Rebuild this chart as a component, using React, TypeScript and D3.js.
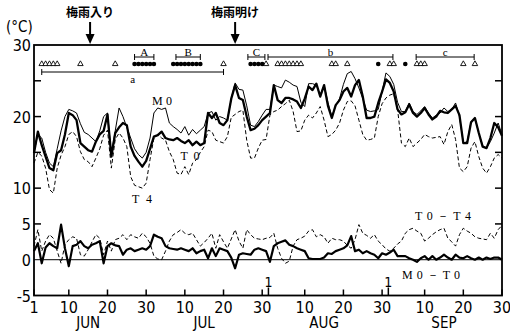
import React, { useEffect, useRef } from "react";
import * as d3 from "d3";

// daily values, 1 Jun (day 0) .. 30 Sep (day 121)
const m0 = [
  15.0, 17.5, 17.0, 15.0, 13.5, 13.0, 15.5, 18.0, 20.0, 21.0,
  20.8, 20.5, 19.0, 17.8, 17.5, 17.0, 16.5, 18.0, 20.0, 20.5,
  14.8, 18.0, 21.2, 20.0, 18.5, 17.0, 15.5, 14.7, 14.2, 15.0,
  17.0, 20.5, 21.2, 21.0, 21.2, 19.1, 18.6, 18.2, 17.7, 18.6,
  17.4, 18.2, 17.6, 18.1, 18.6, 20.5, 20.7, 19.5, 20.0, 19.8,
  19.5, 22.5, 24.7, 23.8, 23.7, 21.5, 18.8, 18.6, 19.3, 20.2,
  21.0, 21.0, 24.4, 24.2, 24.0, 25.1, 24.8, 24.4, 24.2, 22.0,
  21.4, 24.6, 24.6, 24.4, 23.0, 24.4, 22.0, 20.0, 21.5, 22.5,
  24.5, 26.0, 26.3, 25.3, 24.0, 22.5, 20.9, 20.7, 20.8, 21.0,
  23.5, 26.1, 25.6, 24.5, 22.0, 20.7, 20.7, 21.9, 20.7, 20.3,
  20.8, 21.4, 20.5, 19.8, 20.2, 20.5, 21.2, 20.7, 21.0, 21.9,
  20.0, 16.3, 16.5, 19.3, 19.8, 17.7, 15.9, 15.6, 16.5, 17.7,
  19.1, 17.5,
];

const t0 = [
  14.9, 17.9, 16.0, 14.4, 12.8, 12.5, 14.9, 15.3, 17.5, 20.5,
  20.2, 19.5, 16.3, 15.8, 15.3, 15.1, 16.5, 17.5, 18.0, 20.3,
  14.4, 17.7, 18.5, 19.1, 18.8, 15.8, 14.5, 13.7, 13.0, 13.8,
  15.5, 17.2, 17.4, 17.9, 17.0, 16.8, 16.7, 17.0, 16.6, 16.3,
  16.7, 16.0, 16.5, 16.0, 16.3, 20.5, 19.8, 20.5, 19.1, 18.8,
  19.5, 22.5, 24.4, 22.6, 22.3, 20.0, 18.1, 18.3, 18.8, 19.5,
  20.0, 20.5, 24.4, 22.3, 21.9, 22.6, 22.6, 22.4, 22.1, 21.2,
  22.5, 24.2, 23.7, 24.6, 22.8, 24.4, 21.5, 19.8, 21.6, 22.3,
  23.5, 24.0, 22.8, 24.4, 25.1, 22.8, 19.8, 19.8, 20.0, 21.9,
  23.5, 25.2, 24.7, 23.5, 21.0, 20.3, 20.6, 21.7, 20.5, 20.0,
  20.5, 21.2, 20.3, 19.6, 20.0, 20.8, 20.6, 20.5, 21.0, 21.5,
  20.2, 16.3, 16.3, 19.2, 19.8, 17.7, 15.8, 15.6, 17.0, 19.1,
  18.5, 17.3,
];

const t4 = [
  13.5, 15.0, 14.5, 12.8, 9.8, 9.3, 12.8, 14.6, 15.8, 17.5,
  17.9, 17.2, 15.1, 14.0, 13.7, 13.0, 14.2, 15.5, 17.4, 18.1,
  12.8, 16.8, 17.7, 17.0, 15.8, 11.6, 10.4, 10.2, 10.0, 10.7,
  14.0, 17.0, 17.5, 17.0, 16.7, 15.1, 14.0, 12.1, 11.9, 13.0,
  11.9, 13.5, 14.0, 15.0, 15.8, 18.1, 17.9, 16.7, 16.5, 16.3,
  17.2, 19.9, 20.3, 20.7, 20.9, 16.7, 14.2, 14.2, 15.6, 16.7,
  16.8, 20.2, 20.7, 20.9, 21.4, 21.8, 22.3, 20.7, 17.9, 18.0,
  19.5, 20.2, 19.8, 20.5, 21.4, 19.5, 17.2, 17.5, 18.1, 19.1,
  20.9, 22.1, 22.2, 21.5, 19.5, 17.5, 16.7, 16.8, 17.0, 20.0,
  21.8, 22.6, 23.0, 23.2, 21.0, 16.3, 15.8, 17.0, 15.8, 16.3,
  16.8, 17.5, 17.2, 17.0, 17.1, 17.2, 16.1, 17.9, 18.9, 16.8,
  12.8, 12.3, 13.0, 15.6, 16.5, 14.4, 12.8, 12.1, 13.0, 14.2,
  14.7, 14.2,
];

const t0MinusT4 = [
  1.9, 4.2, 1.2, 2.6, 3.5, 3.0, 1.2, -0.5, 2.1, 2.8,
  3.2, 3.0, 0.7, 0.5, 1.4, 2.5, 3.5, 3.0, 0.7, 2.6,
  1.2, 2.8, 3.0, 3.5, 2.8, 3.5, 3.2, 3.0, 3.7, 3.2,
  2.3, 0.5, 0.1, 0.0, 1.2, 2.6, 3.5, 3.8, 4.2, 3.7,
  3.5, 3.7, 2.8, 1.9, 2.4, 3.0, 3.7, 1.6, 3.5, 2.5,
  1.6, 2.9, 4.2, 2.6, 1.6, 4.2, 3.5, 3.0, 2.9, 2.8,
  3.0, 3.1, 3.7, 1.6, 0.2, -0.5, -0.2, 1.9, 2.8, 3.0,
  3.3, 4.0, 4.2, 3.2, 3.5, 3.2, 2.3, 3.0, 2.8, 2.8,
  2.6, 2.0, 1.6, 2.8, 4.9, 3.7, 3.4, 3.0, 3.5, 2.6,
  2.1, 1.5, 1.2, 1.6, 2.2, 2.6, 3.7, 4.2, 4.4, 4.0,
  3.7, 2.6, 3.0, 3.5, 3.9, 4.2, 4.4, 3.0, 2.5, 1.9,
  3.5, 4.4, 4.0, 3.7, 3.2, 3.0, 2.9, 2.8, 3.7, 3.0,
  4.2, 4.8,
];

const m0MinusT0 = [
  1.2, 2.3, -0.5, 1.7, 2.3, 1.9, 1.6, 4.9, 1.6, -0.9,
  1.9, 2.1, 2.6, 1.9, 1.6, 2.1, 2.3, 2.6, -0.5, 1.9,
  2.3, 2.0, 1.9, 0.7, 1.4, 1.6, 1.2, 1.4, 1.6, 1.4,
  1.9, 3.5, 3.2, 3.0, 1.9, 1.6, 1.5, 1.4, 1.6, 1.4,
  1.2, 1.6, 0.9, 1.2, 1.4, 0.2, 1.6, 0.5, 1.6, 1.4,
  1.2, 0.3, -1.2, 0.7, 0.9, 0.8, 0.7, 1.4, 1.6, 1.4,
  1.2, -0.3, 1.9, 2.3, 2.5, 2.7, 2.1, 1.9, 1.6, 1.4,
  1.2, 0.2, 0.1, 0.1, 0.1, 0.3, 0.9, 0.8, 1.2, 1.4,
  1.6, 2.0, 3.3, 1.2, 1.4, 0.9, 1.2, 0.9, 0.7, 0.2,
  0.9, 0.7, 1.0, 1.4, 0.5, 0.5, 0.5, 0.2, 0.0, -0.3,
  0.2, 0.5, 0.0, 0.5, 0.0, 0.3, 0.7, 0.3, 0.0, 0.7,
  0.3, 0.2, 0.5, 0.2, 0.0, 0.3, 0.0, 0.3, 0.1, 0.3,
  0.3, 0.0,
];

const monthNames = ["JUN", "JUL", "AUG", "SEP"];
const monthStart = [0, 30, 61, 92];
const yLabels = [30, 20, 10, 5, 0, -5];
const yTicks = [25, 20, 15, 10, 5];

// observation marks in the top row
const triangleDays = [2, 3, 4, 5, 6, 12, 21, 49, 60, 63, 64, 65, 66, 67, 68, 69, 77, 78, 81, 92, 93, 99, 100, 101, 111, 114];
const circleDays = [26, 27, 28, 29, 30, 31, 36, 37, 38, 39, 40, 41, 42, 43, 56, 57, 58, 59, 89, 96];
const periodLabels = ["a", "A", "B", "C", "b", "c"];
const periodFrom = [2, 26, 36.7, 55.3, 60.5, 98.8];
const periodTo = [49, 31, 43, 59.7, 92.8, 113.8];
const periodRow = [1, 0, 0, 0, 0, 0];

const rainyLabels = ["梅雨入り", "梅雨明け"];
const rainyDays = [14.5, 52];

const App = () => {
  const svgRef = useRef<SVGSVGElement>(null);

  useEffect(() => {
    const svg = d3.select(svgRef.current);
    svg.selectAll("*").remove();

    const width = 510;
    const height = 331;
    const left = 34, right = 502, top = 45, bottom = 295.5;

    const x = d3.scaleLinear().domain([0, 121]).range([left, right]);
    const y = d3.scaleLinear().domain([-5, 30]).range([bottom, top]);

    svg.attr("viewBox", [0, 0, width, height]);
    svg.append("rect").attr("width", width).attr("height", height).attr("fill", "white");

    const numFont = "'DejaVu Sans Condensed', 'Liberation Sans Narrow', 'Liberation Sans', sans-serif";
    const serif = "'Liberation Serif', 'DejaVu Serif', serif";

    const line = d3.line<number>()
      .x((d, i) => x(i))
      .y(d => y(d));

    // zero line of lower panel
    svg.append("line")
      .attr("x1", left).attr("x2", right)
      .attr("y1", y(0)).attr("y2", y(0))
      .attr("stroke", "black").attr("stroke-width", 1);

    // upper panel
    svg.append("path").datum(t4)
      .attr("fill", "none").attr("stroke", "black")
      .attr("stroke-width", 1).attr("stroke-dasharray", "4,2.5")
      .attr("d", line);
    svg.append("path").datum(m0)
      .attr("fill", "none").attr("stroke", "black")
      .attr("stroke-width", 1)
      .attr("d", line);
    svg.append("path").datum(t0)
      .attr("fill", "none").attr("stroke", "black")
      .attr("stroke-width", 2.3).attr("stroke-linejoin", "round")
      .attr("d", line);

    // lower panel
    svg.append("path").datum(t0MinusT4)
      .attr("fill", "none").attr("stroke", "black")
      .attr("stroke-width", 1).attr("stroke-dasharray", "4,2.5")
      .attr("d", line);
    svg.append("path").datum(m0MinusT0)
      .attr("fill", "none").attr("stroke", "black")
      .attr("stroke-width", 2.2).attr("stroke-linejoin", "round")
      .attr("d", line);

    // frame
    svg.append("rect")
      .attr("x", left).attr("y", top)
      .attr("width", right - left).attr("height", bottom - top)
      .attr("fill", "none").attr("stroke", "black").attr("stroke-width", 1.8);

    // y ticks, both sides, inward
    yTicks.forEach(v => {
      svg.append("line").attr("x1", left).attr("x2", left + 7)
        .attr("y1", y(v)).attr("y2", y(v)).attr("stroke", "black").attr("stroke-width", 1.5);
      svg.append("line").attr("x1", right).attr("x2", right - 7)
        .attr("y1", y(v)).attr("y2", y(v)).attr("stroke", "black").attr("stroke-width", 1.5);
    });

    svg.selectAll(".ylab")
      .data(yLabels)
      .join("text")
      .attr("x", 31)
      .attr("y", d => y(d) + 6)
      .attr("text-anchor", "end")
      .attr("font-family", numFont)
      .attr("font-size", 16)
      .text(d => d);

    svg.append("text")
      .attr("x", 6).attr("y", 32)
      .attr("font-family", numFont).attr("font-size", 15)
      .text("(°C)");

    // x ticks
    const xTicks: { day: number; label: string }[] = [{ day: 0, label: "1" }];
    monthStart.forEach(s => {
      [10, 20, 30].forEach(dd => xTicks.push({ day: s + dd - 1, label: String(dd) }));
    });
    xTicks.forEach(t => {
      svg.append("line").attr("x1", x(t.day)).attr("x2", x(t.day))
        .attr("y1", bottom).attr("y2", bottom - 6)
        .attr("stroke", "black").attr("stroke-width", 1.5);
      svg.append("text")
        .attr("x", x(t.day)).attr("y", 313)
        .attr("text-anchor", "middle")
        .attr("font-family", numFont).attr("font-size", 16)
        .text(t.label);
    });

    // month boundaries (Aug 1, Sep 1)
    [monthStart[2], monthStart[3]].forEach(s => {
      svg.append("line").attr("x1", x(s) - 1.5).attr("x2", x(s) - 1.5)
        .attr("y1", bottom).attr("y2", bottom - 8)
        .attr("stroke", "black").attr("stroke-width", 1.5);
      svg.append("text")
        .attr("x", x(s) - 1.5).attr("y", 287)
        .attr("text-anchor", "middle")
        .attr("font-family", numFont).attr("font-size", 14)
        .text("1");
    });

    monthNames.forEach((m, i) => {
      svg.append("text")
        .attr("x", x(monthStart[i] + 14)).attr("y", 328)
        .attr("text-anchor", "middle")
        .attr("font-family", numFont).attr("font-size", 15)
        .text(m);
    });

    // rainy season arrows
    rainyLabels.forEach((lab, i) => {
      const ax = x(rainyDays[i]);
      svg.append("text")
        .attr("x", ax).attr("y", 17)
        .attr("text-anchor", "middle")
        .attr("font-family", "'Noto Sans CJK JP', sans-serif")
        .attr("font-weight", "bold").attr("font-size", 12)
        .text(lab);
      svg.append("line").attr("x1", ax).attr("x2", ax)
        .attr("y1", 22).attr("y2", 36)
        .attr("stroke", "black").attr("stroke-width", 2);
      svg.append("path")
        .attr("d", `M${ax - 4.5},34 L${ax + 4.5},34 L${ax},44 Z`)
        .attr("fill", "black");
    });

    // observation marks
    const rowY = 64;
    const tri = d3.symbol().type(d3.symbolTriangle).size(13);
    svg.selectAll(".tri")
      .data(triangleDays)
      .join("path")
      .attr("transform", d => `translate(${x(d)},${rowY})`)
      .attr("d", tri)
      .attr("fill", "white").attr("stroke", "black").attr("stroke-width", 0.9);
    svg.selectAll(".dot")
      .data(circleDays)
      .join("circle")
      .attr("cx", d => x(d)).attr("cy", rowY)
      .attr("r", 2.3).attr("fill", "black");

    // period brackets
    periodLabels.forEach((lab, i) => {
      const by = periodRow[i] === 1 ? 72 : 57;
      const x1 = x(periodFrom[i]);
      const x2 = x(periodTo[i]);
      const g = svg.append("g").attr("stroke", "black").attr("stroke-width", 1);
      g.append("line").attr("x1", x1).attr("x2", x2).attr("y1", by).attr("y2", by);
      g.append("line").attr("x1", x1).attr("x2", x1).attr("y1", by - 3).attr("y2", by + 3);
      g.append("line").attr("x1", x2).attr("x2", x2).attr("y1", by - 3).attr("y2", by + 3);
      svg.append("text")
        .attr("x", (x1 + x2) / 2)
        .attr("y", periodRow[i] === 1 ? by + 11 : by - 1)
        .attr("text-anchor", "middle")
        .attr("font-family", serif).attr("font-size", 11)
        .text(lab);
    });

    // series labels
    const seriesLabels = [
      { text: "M0", x: 162, y: 105, w: 20 },
      { text: "T0", x: 190, y: 160, w: 19 },
      { text: "T4", x: 142, y: 203, w: 20 },
      { text: "T0－T4", x: 443, y: 220, w: 56 },
      { text: "M0－T0", x: 431, y: 279, w: 58 },
    ];
    seriesLabels.forEach(l => {
      svg.append("text")
        .attr("x", l.x - l.w / 2).attr("y", l.y)
        .attr("font-family", serif).attr("font-size", 12)
        .attr("textLength", l.w).attr("lengthAdjust", "spacing")
        .text(l.text);
    });
  }, []);

  return (
    <svg
      ref={svgRef}
      width={510}
      height={331}
      style={{ position: "absolute", left: 0, top: 0, display: "block" }}
    />
  );
};

export default App;
